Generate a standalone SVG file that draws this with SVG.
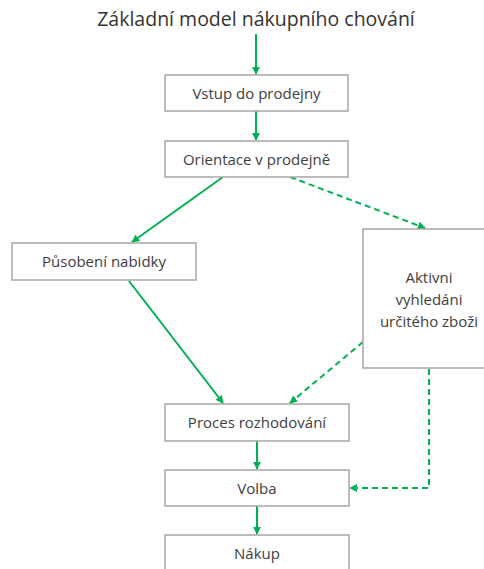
<svg xmlns="http://www.w3.org/2000/svg" width="484" height="569" viewBox="0 0 484 569">
<style>
.box{fill:#fff;stroke:#a6a6a6;stroke-width:1.5}
.t{font-family:"Open Sans","Noto Sans",sans-serif;font-size:15px;fill:#404040;text-anchor:middle}
.c{stroke:#00b050;stroke-width:2;fill:none}
.d{stroke-dasharray:6,4}
</style>
<defs>
<marker id="ah" viewBox="0 0 10 10" refX="9" refY="5" markerWidth="4" markerHeight="4" orient="auto-start-reverse" markerUnits="strokeWidth">
<path d="M0,0 L10,5 L0,10 z" fill="#00b050"/>
</marker>
</defs>
<rect width="484" height="569" fill="#fff"/>
<text x="256" y="26" font-family="'Open Sans','Noto Sans',sans-serif" font-size="19.5" fill="#333" text-anchor="middle">Základní model nákupního chování</text>
<g id="connectors">
<line class="c" x1="256" y1="34" x2="256" y2="74" marker-end="url(#ah)"/>
<line class="c" x1="256" y1="111" x2="256" y2="140" marker-end="url(#ah)"/>
<line class="c" x1="223" y1="177" x2="132" y2="242" marker-end="url(#ah)"/>
<line class="c d" x1="290" y1="177" x2="425" y2="228" marker-end="url(#ah)"/>
<line class="c" x1="129" y1="281" x2="223" y2="403" marker-end="url(#ah)"/>
<line class="c d" x1="363" y1="342" x2="290" y2="403" marker-end="url(#ah)"/>
<line class="c" x1="257" y1="441" x2="257" y2="469" marker-end="url(#ah)"/>
<polyline class="c d" points="429,369 429,488 350,488" marker-end="url(#ah)"/>
<line class="c" x1="257" y1="506" x2="257" y2="534" marker-end="url(#ah)"/>
</g>
<g id="vstup"><rect class="box" x="165" y="75" width="183" height="36"/><text class="t" x="256.5" y="98.5">Vstup do prodejny</text></g>
<g id="orientace"><rect class="box" x="165" y="141" width="183" height="36"/><text class="t" x="256.5" y="164.5">Orientace v prodejně</text></g>
<g id="pusobeni"><rect class="box" x="12" y="243" width="184" height="37"/><text class="t" x="104" y="266.5">Působení nabidky</text></g>
<g id="aktivni"><rect class="box" x="363" y="229" width="132" height="139"/><text class="t" x="429" y="283">Aktivni</text><text class="t" x="429" y="305">vyhledáni</text><text class="t" x="429" y="327">určitého zboži</text></g>
<g id="proces"><rect class="box" x="165" y="404" width="184" height="37"/><text class="t" x="257" y="427.5">Proces rozhodování</text></g>
<g id="volba"><rect class="box" x="165" y="470" width="184" height="36"/><text class="t" x="257" y="493.5">Volba</text></g>
<g id="nakup"><rect class="box" x="165" y="535" width="184" height="40"/><text class="t" x="257" y="559">Nákup</text></g>
</svg>
